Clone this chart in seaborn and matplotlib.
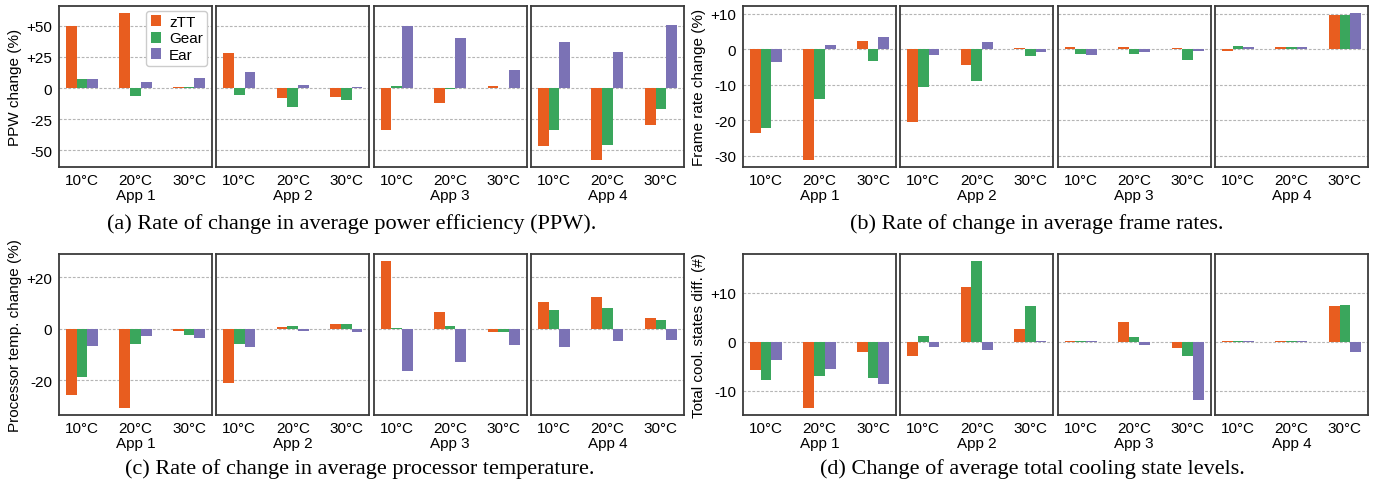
import numpy as np
import pandas as pd
import matplotlib
matplotlib.use("Agg")
import matplotlib.pyplot as plt
import seaborn as sns
from matplotlib.patches import Patch

temps = ["10°C", "20°C", "30°C"]
apps = ["App 1", "App 2", "App 3", "App 4"]
methods = ["zTT", "Gear", "Ear"]
colors = ["#E85D1F", "#3AA65C", "#7B72B5"]

# values ordered App1(10,20,30), App2(10,20,30), App3(...), App4(...)
ppw_ztt = [49.7, 60.0, 0.5, 28.5, -8.3, -7.5, -34.0, -11.6, 1.9, -46.2, -57.5, -29.3]
ppw_gear = [7.5, -6.7, 1.0, -5.9, -15.6, -9.9, 1.9, -1.1, -0.3, -33.3, -45.4, -17.2]
ppw_ear = [7.5, 5.1, 8.3, 13.2, 2.7, 1.1, 49.5, 39.8, 14.8, 36.6, 29.3, 51.0]

fps_ztt = [-23.5, -31.1, 2.2, -20.4, -4.5, 0.2, 0.5, 0.5, 0.2, -0.6, 0.5, 9.5]
fps_gear = [-22.1, -14.1, -3.2, -10.5, -9.0, -2.0, -1.4, -1.4, -2.9, 0.8, 0.5, 9.5]
fps_ear = [-3.7, 1.3, 3.3, -1.5, 1.9, -0.8, -1.7, -0.8, -0.6, 0.5, 0.5, 10.1]

temp_ztt = [-25.6, -30.7, -0.8, -21.2, 0.6, 1.8, 26.3, 6.5, -1.3, 10.3, 12.3, 4.1]
temp_gear = [-18.6, -5.8, -2.3, -5.8, 1.0, 1.8, 0.3, 1.0, -1.3, 7.2, 8.0, 3.4]
temp_ear = [-6.6, -2.7, -3.5, -7.0, -0.9, -1.3, -16.4, -12.8, -6.2, -7.0, -4.7, -4.3]

cool_ztt = [-5.7, -13.4, -2.0, -2.8, 11.1, 2.6, 0.1, 4.0, -1.2, 0.1, 0.1, 7.4]
cool_gear = [-7.8, -7.0, -7.4, 1.1, 16.4, 7.4, 0.1, 0.9, -2.9, 0.1, 0.1, 7.6]
cool_ear = [-3.7, -5.5, -8.6, -1.1, -1.7, 0.1, 0.1, -0.6, -11.8, 0.1, 0.1, -2.0]

ppw_ticks = [50, 25, 0, -25, -50]
ppw_ticklabels = ["+50", "+25", "0", "-25", "-50"]
fps_ticks = [10, 0, -10, -20, -30]
fps_ticklabels = ["+10", "0", "-10", "-20", "-30"]
temp_ticks = [20, 0, -20]
temp_ticklabels = ["+20", "0", "-20"]
cool_ticks = [10, 0, -10]
cool_ticklabels = ["+10", "0", "-10"]

ylabels = ["PPW change (%)", "Frame rate change (%)",
           "Processor temp. change (%)", "Total cool. states diff. (#)"]
captions = ["(a) Rate of change in average power efficiency (PPW).",
            "(b) Rate of change in average frame rates.",
            "(c) Rate of change in average processor temperature.",
            "(d) Change of average total cooling state levels."]

sns.set_style("white")
plt.rcParams["font.family"] = ["Liberation Sans", "DejaVu Sans"]
plt.rcParams["text.color"] = "black"
plt.rcParams["axes.labelcolor"] = "black"
plt.rcParams["xtick.color"] = "black"
plt.rcParams["ytick.color"] = "black"

W, H = 1379, 489
fig = plt.figure(figsize=(W / 100, H / 100), dpi=100)


def make_df(z, g, e):
    rows = []
    for mi, vals in enumerate([z, g, e]):
        for k, v in enumerate(vals):
            rows.append({"app": apps[k // 3], "temp": temps[k % 3],
                         "method": methods[mi], "value": v})
    return pd.DataFrame(rows)


panels = [
    (make_df(ppw_ztt, ppw_gear, ppw_ear), ppw_ticks, ppw_ticklabels, 59, 7),
    (make_df(fps_ztt, fps_gear, fps_ear), fps_ticks, fps_ticklabels, 743, 7),
    (make_df(temp_ztt, temp_gear, temp_ear), temp_ticks, temp_ticklabels, 59, 255),
    (make_df(cool_ztt, cool_gear, cool_ear), cool_ticks, cool_ticklabels, 743, 255),
]
cap_pos = [(352, 224), (1037, 224), (360, 469), (1032, 469)]

aw, ah, step = 153, 161, 157.3
pal = dict(zip(methods, colors))
FS = 11

for pi, (df, ticks, tlabels, left, top) in enumerate(panels):
    vmin, vmax = df["value"].min(), df["value"].max()
    span = vmax - vmin
    ylim = (vmin - 0.05 * span, vmax + 0.05 * span)
    for ai, app in enumerate(apps):
        x0 = left + ai * step
        ax = fig.add_axes([x0 / W, 1 - (top + ah) / H, aw / W, ah / H])
        sub = df[df["app"] == app]
        sns.barplot(data=sub, x="temp", y="value", hue="method", order=temps,
                    hue_order=methods, palette=pal, width=0.6, gap=0,
                    saturation=1, errorbar=None, legend=False, ax=ax, zorder=3,
                    linewidth=0, edgecolor="none")
        ax.set_xlim(-0.43, 2.43)
        ax.set_ylim(*ylim)
        ax.set_yticks(ticks)
        ax.grid(axis="y", color="#b5b5b5", linestyle=(0, (2.5, 1.5)), linewidth=0.8, zorder=0)
        ax.set_axisbelow(True)
        for s in ax.spines.values():
            s.set_color("#3a3a3a")
            s.set_linewidth(1.3)
        ax.tick_params(axis="y", length=3, width=1, color="#3a3a3a", labelsize=FS, pad=2)
        ax.tick_params(axis="x", length=0, labelsize=FS, pad=4)
        ax.set_xlabel(app, fontsize=FS, labelpad=1)
        if ai == 0:
            ax.set_yticklabels(tlabels)
            ax.set_ylabel(ylabels[pi], fontsize=FS, labelpad=3)
        else:
            ax.set_yticklabels([])
            ax.set_ylabel("")
        if pi == 0 and ai == 0:
            handles = [Patch(facecolor=c, edgecolor="none") for c in colors]
            leg = ax.legend(handles, methods, loc="upper right", fontsize=FS,
                            handlelength=0.7, handleheight=0.75, handletextpad=0.5,
                            labelspacing=0.15, borderpad=0.3, borderaxespad=0.3,
                            frameon=True, framealpha=1, edgecolor="#cccccc")
    cx, cy = cap_pos[pi]
    fig.text(cx / W, 1 - cy / H, captions[pi], ha="center", va="center",
             fontsize=16, family=["Liberation Serif", "DejaVu Serif"])

fig.savefig("out.png", dpi=100)
